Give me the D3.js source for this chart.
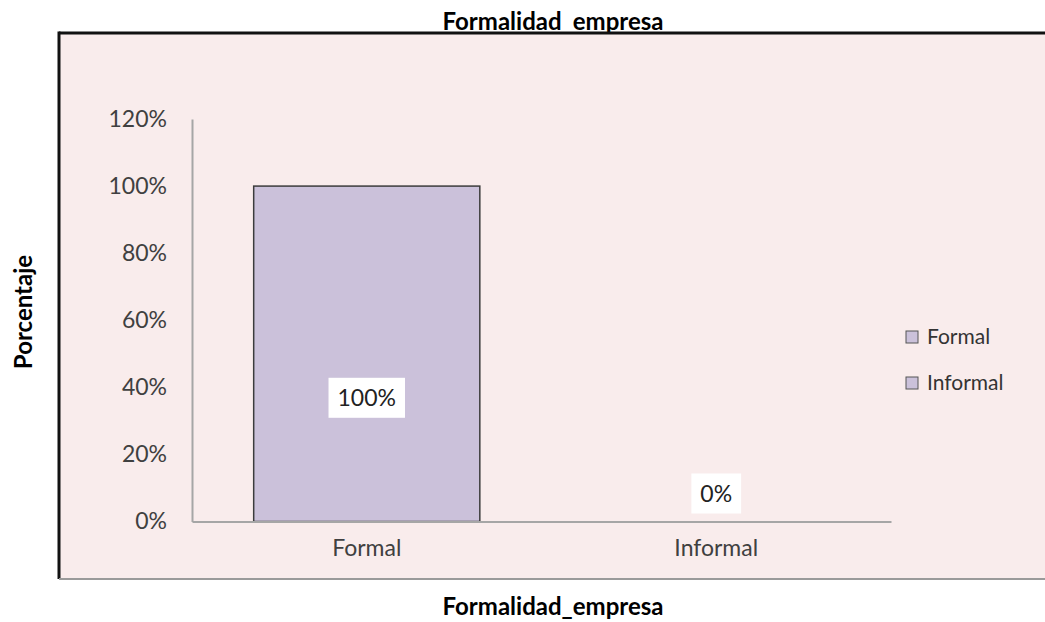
<!DOCTYPE html>
<html>
<head>
<meta charset="utf-8">
<script src="https://cdn.jsdelivr.net/npm/d3@7"></script>
<style>
  html, body { margin: 0; padding: 0; background: #ffffff; }
  svg { display: block; }
  text { font-family: Lato, "Open Sans", sans-serif; }
</style>
</head>
<body>
<svg id="chart" width="1045" height="622"></svg>
<script>
// Share of companies by formality
const categories = ["Formal", "Informal"];
const values = [1.00, 0.00];
const tickValues = [0, 0.2, 0.4, 0.6, 0.8, 1.0, 1.2];
const chartTitle = "Formalidad_empresa";
const xTitle = "Formalidad_empresa";
const yTitle = "Porcentaje";

const svg = d3.select("#chart");
const W = 1045, H = 622;

const barFill = "#cbc1da";
const panelFill = "#f9ecec";

// chart title (drawn first so the frame's top edge sits over its underscore)
svg.append("text")
  .attr("x", 553).attr("y", 30)
  .attr("text-anchor", "middle")
  .attr("font-size", 24).attr("font-weight", 700)
  .attr("fill", "#000")
  .text(chartTitle);

// framed panel
const frame = { x: 59, y: 33, w: W - 59 + 10, h: 579 - 33 };
svg.append("rect")
  .attr("x", frame.x).attr("y", frame.y)
  .attr("width", frame.w).attr("height", frame.h)
  .attr("fill", panelFill);
svg.append("line")
  .attr("x1", frame.x).attr("x2", W + 5).attr("y1", frame.y).attr("y2", frame.y)
  .attr("stroke", "#111").attr("stroke-width", 3);
svg.append("line")
  .attr("x1", frame.x).attr("x2", frame.x).attr("y1", frame.y - 1.5).attr("y2", frame.y + frame.h)
  .attr("stroke", "#111").attr("stroke-width", 3);
svg.append("line")
  .attr("x1", frame.x).attr("x2", W + 5).attr("y1", frame.y + frame.h).attr("y2", frame.y + frame.h)
  .attr("stroke", "#9a9a9a").attr("stroke-width", 2);

// plot area
const plot = { left: 192, right: 891, top: 119, bottom: 521.5 };

const x = d3.scaleBand()
  .domain(categories)
  .range([plot.left, plot.right])
  .paddingInner(0.353)
  .paddingOuter(0.1765);

const y = d3.scaleLinear()
  .domain([0, 1.2])
  .range([plot.bottom, plot.top]);

// y axis
const yAxis = svg.append("g")
  .attr("transform", `translate(${plot.left},0)`)
  .call(d3.axisLeft(y).tickValues(tickValues).tickFormat(d3.format(".0%")).tickSize(0).tickPadding(25));
yAxis.select(".domain").attr("stroke", "#a6a6a6").attr("stroke-width", 2);
yAxis.selectAll("text")
  .attr("font-size", 23).attr("fill", "#404040")
  .attr("font-family", "Lato, 'Open Sans', sans-serif");

// bars
svg.append("g").selectAll("rect")
  .data(categories.map((c, i) => ({ c, v: values[i] })))
  .join("rect")
  .attr("x", d => x(d.c))
  .attr("y", d => y(d.v))
  .attr("width", x.bandwidth())
  .attr("height", d => y(0) - y(d.v))
  .attr("fill", barFill)
  .attr("stroke", "#3c3c3c")
  .attr("stroke-width", 1.5);

// x axis
const xAxis = svg.append("g")
  .attr("transform", `translate(0,${plot.bottom})`)
  .call(d3.axisBottom(x).tickSize(0).tickPadding(18));
xAxis.select(".domain").attr("stroke", "#a6a6a6").attr("stroke-width", 2);
xAxis.selectAll("text")
  .attr("font-size", 23).attr("fill", "#404040")
  .attr("font-family", "Lato, 'Open Sans', sans-serif");

// data labels on white boxes
const fmt = d3.format(".0%");
const labels = svg.append("g").selectAll("g")
  .data(categories.map((c, i) => ({ c, v: values[i] })))
  .join("g")
  .attr("transform", d => {
    const cy = Math.min(y(d.v / 2) + 44, y(0) - 28);
    return `translate(${x(d.c) + x.bandwidth() / 2},${cy})`;
  });
labels.append("text")
  .attr("text-anchor", "middle")
  .attr("dy", "0.35em")
  .attr("font-size", 23).attr("fill", "#222")
  .text(d => fmt(d.v))
  .each(function () {
    const b = this.getBBox();
    d3.select(this.parentNode).insert("rect", "text")
      .attr("x", b.x - 9).attr("y", -20)
      .attr("width", b.width + 18).attr("height", 40)
      .attr("fill", "#ffffff");
  });

// legend
const legend = svg.append("g").selectAll("g")
  .data(categories)
  .join("g")
  .attr("transform", (d, i) => `translate(906,${331 + i * 46})`);
legend.append("rect")
  .attr("width", 12).attr("height", 12)
  .attr("fill", barFill)
  .attr("stroke", "#555").attr("stroke-width", 1);
legend.append("text")
  .attr("x", 21).attr("y", 6).attr("dy", "0.35em")
  .attr("font-size", 21).attr("fill", "#333")
  .text(d => d);

// axis titles
svg.append("text")
  .attr("x", 553).attr("y", 615)
  .attr("text-anchor", "middle")
  .attr("font-size", 24).attr("font-weight", 700).attr("fill", "#000")
  .text(xTitle);
svg.append("text")
  .attr("transform", "translate(32,312) rotate(-90)")
  .attr("text-anchor", "middle")
  .attr("font-size", 24).attr("font-weight", 700).attr("fill", "#000")
  .text(yTitle);
</script>
</body>
</html>
